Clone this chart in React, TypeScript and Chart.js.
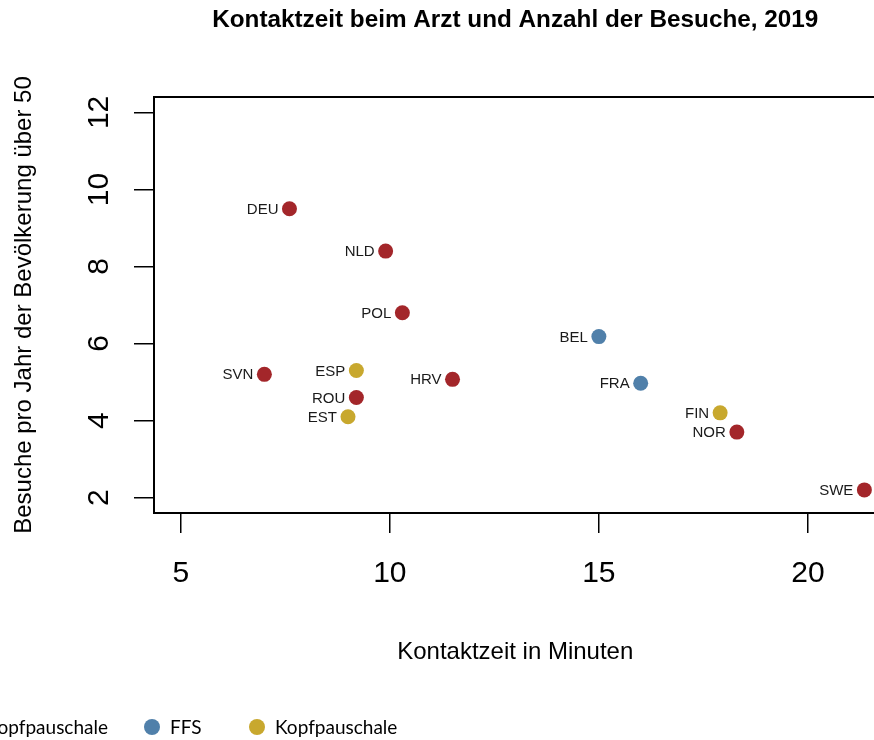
import React, { useEffect, useRef } from "react";
import { Chart, registerables } from "chart.js";

Chart.register(...registerables);

// ---------- data ----------
const countries = ["DEU", "NLD", "POL", "SVN", "ESP", "HRV", "ROU", "EST", "BEL", "FRA", "FIN", "NOR", "SWE"];
const contactMinutes = [7.6, 9.9, 10.3, 7.0, 9.2, 11.5, 9.2, 9.0, 15.0, 16.0, 17.9, 18.3, 21.35];
const visitsPerYear = [9.5, 8.4, 6.8, 5.2, 5.3, 5.07, 4.6, 4.1, 6.18, 4.97, 4.2, 3.7, 2.2];
const paymentGroup = [0, 0, 0, 0, 2, 0, 0, 2, 1, 1, 2, 0, 0];
const groupNames = ["FFS + Kopfpauschale", "FFS", "Kopfpauschale"];
const groupColors = ["#A3262A", "#5080AA", "#C8A82E"];
const xTicks = [5, 10, 15, 20];
const yTicks = [2, 4, 6, 8, 10, 12];

const titleText = "Kontaktzeit beim Arzt und Anzahl der Besuche, 2019";
const xTitle = "Kontaktzeit in Minuten";
const yTitle = "Besuche pro Jahr der Bevölkerung über 50";

const FONT = "'Liberation Sans', Arial, sans-serif";

const overlayPlugin = {
  id: "overlay",
  afterDatasetsDraw(chart: any) {
    const ctx = chart.ctx as CanvasRenderingContext2D;
    const area = chart.chartArea;
    const xs = chart.scales.x;
    const ys = chart.scales.y;
    ctx.save();

    // box
    ctx.strokeStyle = "#000";
    ctx.lineWidth = 2;
    ctx.strokeRect(area.left, area.top, area.right - area.left, area.bottom - area.top);

    // point labels
    ctx.fillStyle = "#1a1a1a";
    ctx.font = `15px ${FONT}`;
    ctx.textAlign = "right";
    ctx.textBaseline = "middle";
    chart.data.datasets.forEach((ds: any, di: number) => {
      const meta = chart.getDatasetMeta(di);
      meta.data.forEach((el: any, i: number) => {
        const lbl = ds.data[i].label;
        ctx.fillText(lbl, el.x - 11, el.y + 1);
      });
    });

    // x tick labels
    ctx.fillStyle = "#000";
    ctx.font = `30px ${FONT}`;
    ctx.textAlign = "center";
    ctx.textBaseline = "alphabetic";
    xTicks.forEach((v) => {
      ctx.fillText(String(v), xs.getPixelForValue(v), area.bottom + 69);
    });

    // y tick labels (rotated)
    yTicks.forEach((v) => {
      ctx.save();
      ctx.translate(area.left - 46, ys.getPixelForValue(v));
      ctx.rotate(-Math.PI / 2);
      ctx.textAlign = "center";
      ctx.textBaseline = "alphabetic";
      ctx.fillText(String(v), 0, 0);
      ctx.restore();
    });

    const cx = (area.left + area.right) / 2;

    // title
    ctx.font = `bold 24.3px ${FONT}`;
    ctx.textAlign = "center";
    ctx.fillText(titleText, cx, 27);

    // x title
    ctx.font = `24px ${FONT}`;
    ctx.fillText(xTitle, cx, 659);

    // y title
    ctx.save();
    ctx.translate(31, (area.top + area.bottom) / 2);
    ctx.rotate(-Math.PI / 2);
    ctx.textAlign = "center";
    ctx.fillText(yTitle, 0, 0);
    ctx.restore();

    // legend
    const legY = 727;
    ctx.font = `19px Lato, 'Open Sans', sans-serif`;
    ctx.textBaseline = "middle";
    ctx.textAlign = "left";
    const dotX = [0, 152, 257];
    dotX[0] = 108 - ctx.measureText(groupNames[0]).width - 18;
    groupNames.forEach((name, g) => {
      ctx.fillStyle = groupColors[g];
      ctx.beginPath();
      ctx.arc(dotX[g], legY, 8, 0, Math.PI * 2);
      ctx.fill();
      ctx.fillStyle = "#000";
      ctx.fillText(name, dotX[g] + 18, legY + 1);
    });

    ctx.restore();
  },
};

export default function App() {
  const ref = useRef<HTMLCanvasElement | null>(null);

  useEffect(() => {
    if (!ref.current) return;
    const datasets = groupNames.map((name, g) => ({
      label: name,
      data: countries
        .map((c, i) => ({ x: contactMinutes[i], y: visitsPerYear[i], label: c, g: paymentGroup[i] }))
        .filter((p) => p.g === g),
      backgroundColor: groupColors[g],
      borderWidth: 0,
      pointRadius: 7.5,
      pointHoverRadius: 7.5,
    }));

    const chart = new Chart(ref.current, {
      type: "scatter",
      data: { datasets },
      options: {
        animation: false,
        responsive: false,
        devicePixelRatio: 1,
        layout: { padding: { top: 97, right: 3, bottom: 0, left: 0 } },
        plugins: { legend: { display: false }, tooltip: { enabled: false }, title: { display: false } },
        scales: {
          x: {
            type: "linear",
            min: 4.36,
            max: 21.64,
            afterBuildTicks: (s: any) => {
              s.ticks = xTicks.map((v) => ({ value: v }));
            },
            afterFit: (s: any) => {
              s.height = 227;
            },
            ticks: { display: false },
            grid: { display: true, drawOnChartArea: false, drawTicks: true, tickLength: 20, color: "#000", lineWidth: 1.5 },
            border: { display: false },
          },
          y: {
            type: "linear",
            min: 1.6,
            max: 12.4,
            afterBuildTicks: (s: any) => {
              s.ticks = yTicks.map((v) => ({ value: v }));
            },
            afterFit: (s: any) => {
              s.width = 154;
            },
            ticks: { display: false },
            grid: { display: true, drawOnChartArea: false, drawTicks: true, tickLength: 20, color: "#000", lineWidth: 1.5 },
            border: { display: false },
          },
        },
      },
      plugins: [overlayPlugin],
    });
    return () => chart.destroy();
  }, []);

  return (
    <div style={{ position: "fixed", left: 0, top: 0, width: 874, height: 740, overflow: "hidden", background: "#fff" }}>
      <canvas ref={ref} width={884} height={740} style={{ display: "block", width: 884, height: 740 }} />
    </div>
  );
}
